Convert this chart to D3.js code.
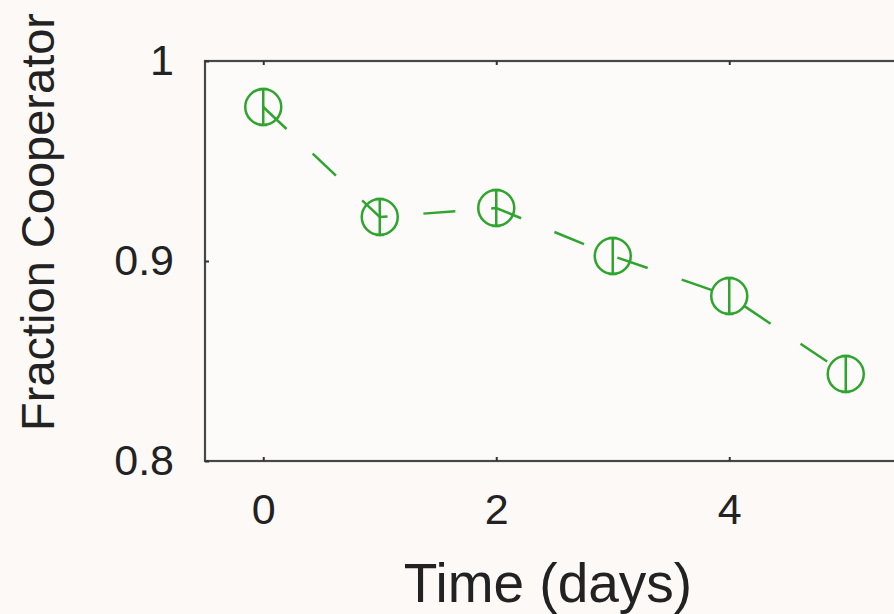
<!DOCTYPE html>
<html>
<head>
<meta charset="utf-8">
<script src="https://cdn.jsdelivr.net/npm/d3@7"></script>
<style>
  html, body { margin: 0; padding: 0; background: #fcf9f7; }
  svg { display: block; }
  text { font-family: "Liberation Sans", Arial, Helvetica, sans-serif; fill: #222; }
</style>
</head>
<body>
<svg></svg>
<script>
let days = [0, 1, 2, 3, 4, 5]
let fraction = [0.977, 0.922, 0.9265, 0.9025, 0.8825, 0.8435]
let errs = [0.009, 0.009, 0.009, 0.009, 0.009, 0.009]
let xTicks = [0, 2, 4]
let yTicks = [0.8, 0.9, 1]

let width = 894
let height = 614
let padLeft = 205, padRight = 904, padTop = 61, padBottom = 461
let green = "#2fa52f"

let svg = d3.select("svg")
  .attr("width", width)
  .attr("height", height)

let xScale = d3.scaleLinear().domain([-0.5, 5.5]).range([padLeft, padRight])
let yScale = d3.scaleLinear().domain([0.8, 1]).range([padBottom, padTop])

// frame
svg.append("rect")
  .attr("x", padLeft).attr("y", padTop)
  .attr("width", padRight - padLeft).attr("height", padBottom - padTop)
  .attr("fill", "#fdfbfa")
  .attr("stroke", "#474747")
  .attr("stroke-width", 2.2)

// axes
let xAxis = d3.axisBottom(xScale).tickValues(xTicks).tickSize(-4).tickPadding(32)
  .tickFormat(d3.format("d"))
let xAxisTop = d3.axisTop(xScale).tickValues(xTicks).tickSize(-4).tickFormat("")
let yAxis = d3.axisLeft(yScale).tickValues(yTicks).tickSize(-4).tickPadding(31)
  .tickFormat(d => d === 1 ? "1" : d3.format(".1f")(d))

let styleAxis = g => {
  g.select(".domain").remove()
  g.selectAll("line").attr("stroke", "#333").attr("stroke-width", 2)
  g.selectAll("text").attr("font-size", 43).attr("fill", "#222")
    .attr("font-family", "Liberation Sans, Arial, sans-serif")
}

svg.append("g").attr("transform", "translate(0," + padBottom + ")").call(xAxis).call(styleAxis)
svg.append("g").attr("transform", "translate(0," + padTop + ")").call(xAxisTop).call(styleAxis)
svg.append("g").attr("transform", "translate(" + padLeft + ",0)").call(yAxis).call(styleAxis)

// labels
svg.append("text")
  .attr("x", 548).attr("y", 602)
  .attr("text-anchor", "middle")
  .attr("font-size", 55)
  .text("Time (days)")

svg.append("text")
  .attr("transform", "translate(54,222) rotate(-90)")
  .attr("text-anchor", "middle")
  .attr("font-size", 47)
  .text("Fraction Cooperator")

// dashed line
let line = d3.line()
  .x((d, i) => xScale(days[i]))
  .y(d => yScale(d))

svg.append("path")
  .datum(fraction)
  .attr("d", line)
  .attr("fill", "none")
  .attr("stroke", green)
  .attr("stroke-width", 2.5)
  .attr("stroke-dasharray", "32,36")

// error bars
let eb = svg.append("g").attr("stroke", green).attr("stroke-width", 2.5)
eb.selectAll(".bar")
  .data(fraction)
  .enter()
  .append("line")
  .attr("x1", (d, i) => xScale(days[i]))
  .attr("x2", (d, i) => xScale(days[i]))
  .attr("y1", (d, i) => yScale(d - errs[i]))
  .attr("y2", (d, i) => yScale(d + errs[i]))

eb.selectAll(".capTop")
  .data(fraction)
  .enter()
  .append("line")
  .attr("x1", (d, i) => xScale(days[i]) - 4)
  .attr("x2", (d, i) => xScale(days[i]) + 4)
  .attr("y1", (d, i) => yScale(d + errs[i]))
  .attr("y2", (d, i) => yScale(d + errs[i]))

eb.selectAll(".capBottom")
  .data(fraction)
  .enter()
  .append("line")
  .attr("x1", (d, i) => xScale(days[i]) - 4)
  .attr("x2", (d, i) => xScale(days[i]) + 4)
  .attr("y1", (d, i) => yScale(d - errs[i]))
  .attr("y2", (d, i) => yScale(d - errs[i]))

// markers
svg.selectAll("circle")
  .data(fraction)
  .enter()
  .append("circle")
  .attr("cx", (d, i) => xScale(days[i]))
  .attr("cy", d => yScale(d))
  .attr("r", 18)
  .attr("fill", "none")
  .attr("stroke", green)
  .attr("stroke-width", 2.5)
</script>
</body>
</html>
